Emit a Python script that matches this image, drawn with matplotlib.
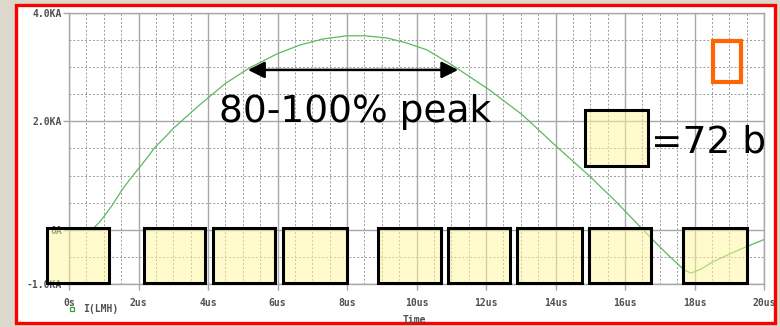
import matplotlib
matplotlib.use("Agg")
import matplotlib.pyplot as plt
from matplotlib.patches import Rectangle
from matplotlib.ticker import MultipleLocator

t_us = [0.0, 0.5, 0.7, 0.85, 1.0, 1.24, 1.53, 1.75, 1.99, 2.25, 2.47, 2.75, 3.0,
        3.4, 3.77, 4.5, 5.2, 6.0, 6.65, 7.3, 8.0, 8.5, 9.15, 9.7, 10.3, 11.05,
        12.1, 13.05, 14.04, 15.0, 15.77, 16.43, 16.9, 17.3, 17.7, 17.9, 18.2,
        18.5, 19.0, 19.5, 20.0]
i_ka = [0.0, 0.0, 0.03, 0.12, 0.24, 0.45, 0.74, 0.93, 1.12, 1.33, 1.52, 1.7,
        1.87, 2.1, 2.31, 2.7, 2.99, 3.25, 3.41, 3.52, 3.58, 3.58, 3.54, 3.45,
        3.32, 3.03, 2.58, 2.12, 1.53, 0.98, 0.5, 0.06, -0.25, -0.5, -0.74,
        -0.8, -0.72, -0.6, -0.45, -0.31, -0.18]

# yellow 72 b blocks (start, end in us)
box_start = [-0.63, 2.16, 4.14, 6.16, 8.9, 10.9, 12.9, 14.96, 17.67]
box_end = [1.15, 3.91, 5.93, 8.0, 10.7, 12.7, 14.76, 16.75, 19.5]
box_top = 0.04
box_bottom = -0.98

y_ticks = [-1.0, 0.0, 2.0, 4.0]
y_labels = ["-1.0KA", "0A", "2.0KA", "4.0KA"]
x_ticks = [0, 2, 4, 6, 8, 10, 12, 14, 16, 18, 20]
x_labels = ["0s"] + [f"{v}us" for v in x_ticks[1:]]

fig = plt.figure(figsize=(7.8, 3.27), dpi=100, facecolor="#dcd8cc")
# white sheet with the red frame round it
fig.add_artist(Rectangle((16 / 780, 1 - 323 / 327), 759 / 780, 318 / 327,
                         transform=fig.transFigure, facecolor="white",
                         edgecolor="red", linewidth=2.4, zorder=-5))

ax = fig.add_axes([69 / 780, 1 - 284 / 327, 695 / 780, 271 / 327])
ax.set_xlim(0, 20)
ax.set_ylim(-1, 4)

gcol = "#a8a8a8"
ax.set_xticks(x_ticks)
ax.set_xticklabels(x_labels)
ax.set_yticks(y_ticks)
ax.set_yticklabels(y_labels)
ax.xaxis.set_minor_locator(MultipleLocator(0.5))
ax.yaxis.set_minor_locator(MultipleLocator(0.5))
ax.grid(which="major", color=gcol, linewidth=1.0)
ax.grid(which="minor", color="#9a9a9a", linewidth=0.7, linestyle=(0, (2, 2)))
ax.tick_params(which="major", length=4, width=1.0, color=gcol, pad=6,
               labelsize=7, labelcolor="#505050")
ax.tick_params(axis="y", pad=1)
ax.tick_params(which="minor", length=0)
for lab in ax.get_xticklabels() + ax.get_yticklabels():
    lab.set_family("DejaVu Sans Mono")
    lab.set_fontweight("bold")
for s in ax.spines.values():
    s.set_color(gcol)
    s.set_linewidth(1.0)

ax.plot(t_us, i_ka, color="#5cba5c", linewidth=0.9, zorder=2)

for a, b in zip(box_start, box_end):
    ax.add_patch(Rectangle((a, box_bottom), b - a, box_top - box_bottom,
                           facecolor=(1, 0.97, 0.6, 0.5), edgecolor="black",
                           linewidth=2.2, clip_on=False, zorder=4))

# 80-100% of peak arrow and text
ax.annotate("", xy=(5.15, 2.95), xytext=(11.2, 2.95),
            arrowprops=dict(arrowstyle="<|-|>", color="black", lw=1.8,
                            mutation_scale=25, shrinkA=0, shrinkB=0), zorder=5)
ax.text(8.23, 1.99, "80-100% peak", fontsize=27, ha="center", va="baseline",
        zorder=5)

# key: one block = 72 b
ax.add_patch(Rectangle((14.85, 1.18), 1.81, 1.03, facecolor=(1, 0.97, 0.6, 0.5),
                       edgecolor="black", linewidth=2.2, zorder=4))
ax.text(18.4, 1.42, "=72 b", fontsize=27, ha="center", va="baseline", zorder=5)

ax.add_patch(Rectangle((18.53, 2.72), 0.82, 0.77, facecolor="none",
                       edgecolor="#ff6600", linewidth=3.0, zorder=4))

# trace legend under the plot
fig.add_artist(Rectangle((70 / 780, 1 - 311 / 327), 4 / 780, 4 / 327,
                         transform=fig.transFigure, facecolor="none",
                         edgecolor="#3aa03a", linewidth=0.9))
fig.text(83 / 780, 1 - 309 / 327, "I(LMH)", family="DejaVu Sans Mono",
         fontweight="bold", fontsize=7, color="#505050", va="center")
fig.text(403 / 780, 1 - 320 / 327, "Time", family="DejaVu Sans Mono",
         fontweight="bold", fontsize=7, color="#505050", va="center")

fig.savefig("out.png", dpi=100)
